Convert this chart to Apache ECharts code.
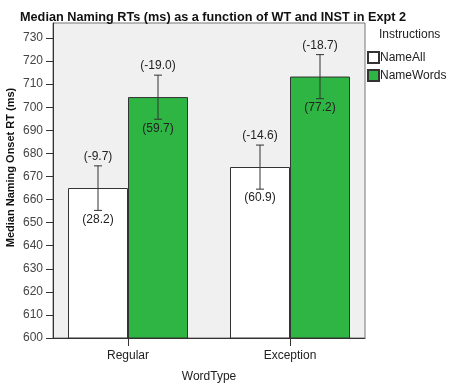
<!DOCTYPE html>
<html>
<head>
<meta charset="utf-8">
<script src="https://cdn.jsdelivr.net/npm/echarts@6/dist/echarts.min.js"></script>
<style>
  html, body { margin: 0; padding: 0; background: #fff; }
  #chart { width: 454px; height: 390px; }
</style>
</head>
<body>
<div id="chart"></div>
<script>
// data
const categories = ["Regular", "Exception"];
const seriesNames = ["NameAll", "NameWords"];
const nameAllMedian = [665.0, 674.1];
const nameWordsMedian = [704.4, 713.3];
const nameAllLow = [655.3, 664.5];
const nameAllHigh = [674.6, 683.6];
const nameWordsLow = [694.8, 703.7];
const nameWordsHigh = [713.9, 722.8];
const nameAllTopLabels = ["(-9.7)", "(-14.6)"];
const nameAllBottomLabels = ["(28.2)", "(60.9)"];
const nameWordsTopLabels = ["(-19.0)", "(-18.7)"];
const nameWordsBottomLabels = ["(59.7)", "(77.2)"];

const FONT = "Liberation Sans, Arial, sans-serif";
const Y_MIN = 600, Y_MAX = 736.5;

const chart = echarts.init(document.getElementById("chart"));

// error bar + the bracket numbers, side: -1 left bar, +1 right bar
function errorBar(side, low, high, topLabels, bottomLabels) {
  return {
    type: "custom",
    xAxisIndex: 0,
    yAxisIndex: 0,
    z: 5,
    silent: true,
    data: categories.map((c, i) => [i, low[i], high[i]]),
    renderItem: (params, api) => {
      const i = api.value(0);
      const lo = api.coord([i, api.value(1)]);
      const hi = api.coord([i, api.value(2)]);
      const x = lo[0] + side * 30;
      const cap = 4;
      const style = { stroke: "#333", lineWidth: 1 };
      return {
        type: "group",
        children: [
          { type: "line", shape: { x1: x, y1: hi[1], x2: x, y2: lo[1] }, style },
          { type: "line", shape: { x1: x - cap, y1: hi[1], x2: x + cap, y2: hi[1] }, style },
          { type: "line", shape: { x1: x - cap, y1: lo[1], x2: x + cap, y2: lo[1] }, style },
          { type: "text", style: { x: x, y: hi[1] - 3, text: topLabels[i], textAlign: "center", textVerticalAlign: "bottom", fill: "#222", font: "12px " + FONT } },
          { type: "text", style: { x: x, y: lo[1] + 3, text: bottomLabels[i], textAlign: "center", textVerticalAlign: "top", fill: "#222", font: "12px " + FONT } }
        ]
      };
    }
  };
}

const option = {
  animation: false,
  textStyle: { fontFamily: FONT },
  title: [
    {
      text: "Median Naming RTs (ms) as a function of WT and INST in Expt 2",
      left: 15, top: 6,
      textStyle: { fontSize: 12.7, fontWeight: "bold", color: "#111", fontFamily: FONT }
    },
    {
      text: "Instructions",
      left: 374, top: 24,
      textStyle: { fontSize: 12, fontWeight: "normal", color: "#222", fontFamily: FONT }
    }
  ],
  legend: {
    orient: "vertical",
    left: 362, top: 46,
    itemWidth: 11, itemHeight: 11, itemGap: 5,
    icon: "rect",
    data: seriesNames,
    textStyle: { fontSize: 12, color: "#222", padding: [0, 0, 0, -4] }
  },
  grid: [
    // bars grid: wider so that the category centres land where the reference has them
    { left: 47, right: 83, top: 23, bottom: 52, show: false, outerBoundsMode: "none" },
    // plot box
    { left: 53, right: 89, top: 23, bottom: 52, show: true, backgroundColor: "#F0F0F0", borderColor: "#777", borderWidth: 1, z: 0, outerBoundsMode: "none" }
  ],
  xAxis: [
    {
      gridIndex: 0,
      type: "category",
      data: categories,
      name: "WordType",
      nameLocation: "middle",
      nameGap: 33,
      nameTextStyle: { fontSize: 12, color: "#222" },
      axisLine: { show: false },
      axisTick: { show: true, alignWithLabel: true, length: 8, lineStyle: { color: "#333" } },
      axisLabel: { fontSize: 12, color: "#222", margin: 12 }
    },
    {
      gridIndex: 1,
      type: "value",
      min: 0, max: 1,
      axisLine: { show: true, lineStyle: { color: "#333" } },
      axisTick: { show: false },
      axisLabel: { show: false },
      splitLine: { show: false }
    }
  ],
  yAxis: [
    {
      gridIndex: 0,
      type: "value",
      min: Y_MIN, max: Y_MAX,
      show: false
    },
    {
      gridIndex: 1,
      type: "value",
      min: Y_MIN, max: Y_MAX,
      interval: 10,
      name: "Median Naming Onset RT (ms)",
      nameLocation: "middle",
      nameGap: 37,
      nameMoveOverlap: false,
      nameTextStyle: { fontSize: 11, fontWeight: "bold", color: "#111", padding: [0, 0, 0, 26] },
      axisLine: { show: true, lineStyle: { color: "#333" } },
      axisTick: { show: true, length: 7, lineStyle: { color: "#333" } },
      axisLabel: { fontSize: 12, color: "#444", margin: 10, showMaxLabel: false },
      splitLine: { show: false }
    }
  ],
  series: [
    {
      name: seriesNames[0],
      type: "bar",
      xAxisIndex: 0, yAxisIndex: 0,
      barWidth: 60,
      barGap: "0%",
      z: 3,
      data: nameAllMedian,
      itemStyle: { color: "#FFFFFF", borderColor: "#333", borderWidth: 1 }
    },
    {
      name: seriesNames[1],
      type: "bar",
      xAxisIndex: 0, yAxisIndex: 0,
      barWidth: 60,
      barGap: "0%",
      z: 3,
      data: nameWordsMedian,
      itemStyle: { color: "#2EB543", borderColor: "#333", borderWidth: 1 }
    },
    errorBar(-1, nameAllLow, nameAllHigh, nameAllTopLabels, nameAllBottomLabels),
    errorBar(1, nameWordsLow, nameWordsHigh, nameWordsTopLabels, nameWordsBottomLabels)
  ]
};

chart.setOption(option);
</script>
</body>
</html>
